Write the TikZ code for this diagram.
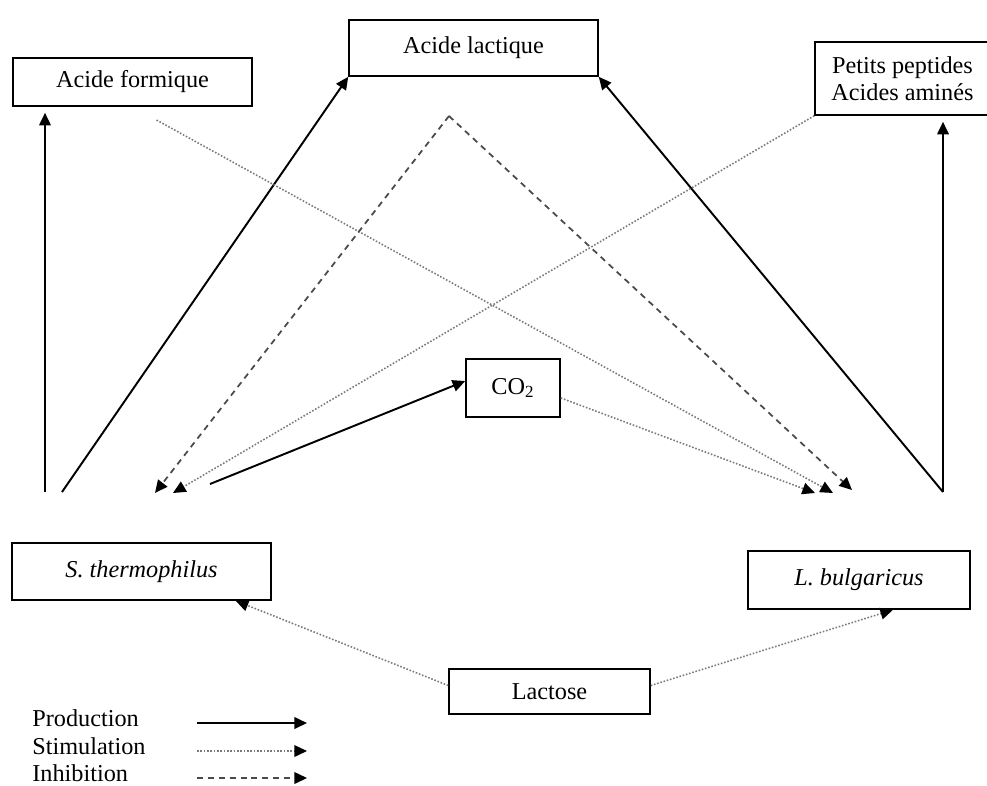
\documentclass[tikz,border=0pt]{standalone}
\usepackage{fontspec}
\setmainfont{Liberation Serif}
\usepackage{tikz}
\usetikzlibrary{positioning,arrows.meta}
\usepackage{xcolor}
\definecolor{stimgray}{HTML}{7A7A7A}
\definecolor{inhibgray}{HTML}{4A4A4A}

\begin{document}
\begin{tikzpicture}[x=0.02cm, y=-0.02cm,
  every node/.style={font=\fontsize{13.8}{15.5}\selectfont},
  box/.style={draw, line width=0.9pt, inner sep=0pt},
  prod/.style={line width=1.1pt, -{Triangle[length=7.2pt,width=6.6pt,color=black]}},
  stim/.style={stimgray, line width=0.9pt, densely dotted, -{Triangle[length=7.2pt,width=6.6pt,color=black]}},
  inhib/.style={inhibgray, line width=1pt, dash pattern=on 3.4pt off 2.8pt, -{Triangle[length=7.2pt,width=6.6pt,color=black]}}]

\useasboundingbox (0,0) rectangle (987,785);

% --- products ---
\node[box, minimum width=4.78cm, minimum height=0.96cm] (form) at (132.5,82) {Acide formique};
\node[box, minimum width=4.98cm, minimum height=1.12cm] (lact) at (473.5,48) {Acide lactique};
\node[box, minimum width=3.5cm, minimum height=1.46cm, align=center] (pept) at (902.5,78.5)
     {Petits peptides\\Acides aminés};
\node[box, minimum width=1.88cm, minimum height=1.16cm] (co2) at (513,388) {CO\textsubscript{2}};

% --- bacteria and substrate ---
\node[box, minimum width=5.18cm, minimum height=1.14cm] (st) at (141.5,571.5) {\itshape S. thermophilus};
\node[box, minimum width=4.44cm, minimum height=1.16cm] (lb) at (859,580) {\itshape L. bulgaricus};
\node[box, minimum width=4.02cm, minimum height=0.9cm] (lac) at (549.5,691.5) {Lactose};

% free ends above the bacteria
\coordinate (st-a) at (45,492);
\coordinate (st-b) at (62,492);
\coordinate (st-c) at (210,484);
\coordinate (st-d) at (155,493);
\coordinate (st-e) at (173,493);
\coordinate (lb-a) at (943,492);
\coordinate (lb-b) at (815,493);
\coordinate (lb-c) at (833,493);
\coordinate (lb-d) at (852,490);
\coordinate (inh) at (449,116);

% --- production ---
\draw[prod] (st-a) -- ([yshift=-0.12cm]st-a |- form.south);
\draw[prod] (st-b) -- (lact.south west);
\draw[prod] (st-c) -- ([yshift=0.14cm]co2.west);
\draw[prod] (lb-a) -- (lact.south east);
\draw[prod] (lb-a) -- ([yshift=-0.12cm]lb-a |- pept.south);

% --- stimulation ---
\draw[stim, shorten <=0.55cm] (form.south) -- (lb-c);
\draw[stim] (pept.south west) -- (st-e);
\draw[stim] ([yshift=-0.2cm]co2.east) -- (lb-b);
\draw[stim] ([yshift=0.12cm]lac.west) -- ([xshift=-0.72cm]st.south east);
\draw[stim] ([yshift=0.12cm]lac.east) -- ([xshift=0.68cm]lb.south);

% --- inhibition ---
\draw[inhib] (inh) -- (st-d);
\draw[inhib] (inh) -- (lb-d);

% --- legend ---
\node[anchor=west, inner sep=0pt] (leg-prod) at (32,718) {Production};
\node[anchor=west, inner sep=0pt] (leg-stim) at (32,746) {Stimulation};
\node[anchor=west, inner sep=0pt] (leg-inhib) at (32,773) {Inhibition};
\coordinate (lp) at (197,723);
\coordinate (ls) at (197,751);
\coordinate (li) at (197,778);
\draw[prod] (lp) -- ++(110,0);
\draw[stim] (ls) -- ++(110,0);
\draw[inhib] (li) -- ++(110,0);

\end{tikzpicture}
\end{document}
